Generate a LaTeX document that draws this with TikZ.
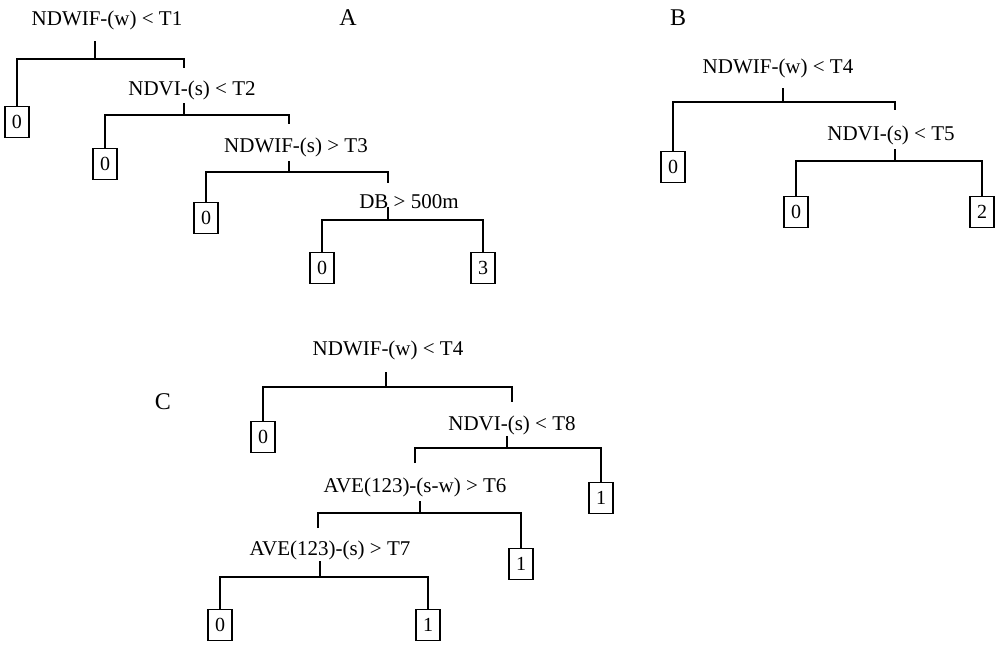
\documentclass[tikz,border=0pt]{standalone}
\usepackage{fontspec}
\setmainfont{Liberation Serif}
\begin{document}
\begin{tikzpicture}[x=1pt,y=-1pt,
  lab/.style={font=\fontsize{21}{21}\selectfont,inner sep=0pt},
  leaf/.style={draw,line width=1.8pt,minimum width=24pt,minimum height=31pt,inner sep=0pt,font=\fontsize{20}{20}\selectfont},
  ln/.style={line width=1.8pt}]
\useasboundingbox (0,0) rectangle (1000,648);
% titles
\node[lab,font=\fontsize{24}{24}\selectfont] (tA) at (348,18) {A};
\node[lab,font=\fontsize{24}{24}\selectfont] (tB) at (678,18) {B};
\node[lab,font=\fontsize{24}{24}\selectfont] (tC) at (163,402) {C};
% ===== A
\node[lab] (a1) at (107,20) {NDWIF-(w) < T1};
\node[lab] (a2) at (192,90) {NDVI-(s) < T2};
\node[lab] (a3) at (296,147) {NDWIF-(s) > T3};
\node[lab] (a4) at (409,202) {DB > 500m};
\node[leaf] (a0) at (17,122) {0};
\node[leaf] (b0) at (105,164) {0};
\node[leaf] (c0) at (206,218) {0};
\node[leaf] (d0) at (322,268) {0};
\node[leaf] (d3) at (483,268) {3};
\coordinate (s1) at (95,41); \coordinate (s2) at (184,103);
\coordinate (s3) at (289,161); \coordinate (s4) at (388,207);
\draw[ln] (s1) -- (95,59);
\draw[ln] (a0.north) |- (184,59) -- (184,68);
\draw[ln] (s2) -- (184,115);
\draw[ln] (b0.north) |- (289,115) -- (289,124);
\draw[ln] (s3) -- (289,172);
\draw[ln] (c0.north) |- (388,172) -- (388,183);
\draw[ln] (s4) -- (388,220);
\draw[ln] (d0.north) |- (d3.north |- 0,220) -- (d3.north);
% ===== B
\node[lab] (e1) at (778,68) {NDWIF-(w) < T4};
\node[lab] (e2) at (891,135) {NDVI-(s) < T5};
\node[leaf] (e0) at (673,167) {0};
\node[leaf] (f0) at (796,212) {0};
\node[leaf] (f2) at (982,212) {2};
\coordinate (s5) at (783,88); \coordinate (s6) at (895,149);
\draw[ln] (s5) -- (783,102);
\draw[ln] (e0.north) |- (895,102) -- (895,110);
\draw[ln] (s6) -- (895,161);
\draw[ln] (f0.north) |- (f2.north |- 0,161) -- (f2.north);
% ===== C
\node[lab] (g1) at (388,350) {NDWIF-(w) < T4};
\node[lab] (g2) at (512,425) {NDVI-(s) < T8};
\node[lab] (g3) at (415,487) {AVE(123)-(s-w) > T6};
\node[lab] (g4) at (330,550) {AVE(123)-(s) > T7};
\node[leaf] (g0) at (263,437) {0};
\node[leaf] (h1) at (601,498) {1};
\node[leaf] (i1) at (521,564) {1};
\node[leaf] (j0) at (220,625) {0};
\node[leaf] (j1) at (428,625) {1};
\coordinate (s7) at (386,372); \coordinate (s8) at (507,436);
\coordinate (s9) at (420,501); \coordinate (s10) at (320,561);
\draw[ln] (s7) -- (386,387);
\draw[ln] (g0.north) |- (512,387) -- (512,402);
\draw[ln] (s8) -- (507,448);
\draw[ln] (415,463) |- (601,448) -- (h1.north);
\draw[ln] (s9) -- (420,513);
\draw[ln] (318,528) |- (521,513) -- (i1.north);
\draw[ln] (s10) -- (320,577);
\draw[ln] (j0.north) |- (j1.north |- 0,577) -- (j1.north);
\end{tikzpicture}
\end{document}
